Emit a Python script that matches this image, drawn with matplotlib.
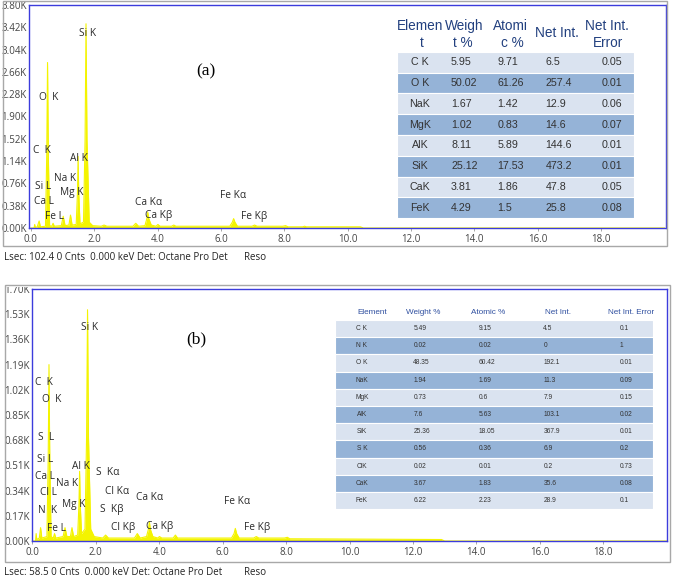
import matplotlib
matplotlib.use('Agg')
import matplotlib.pyplot as plt
from matplotlib.patches import Rectangle

# ---- spectrum (a): energy (keV) vs counts (K) ----
energy_a = [0.00, 0.10, 0.12, 0.14, 0.20, 0.26, 0.30,
            0.46, 0.50, 0.525, 0.55, 0.59,
            0.66, 0.70, 0.74,
            0.96, 1.02, 1.08,
            1.20, 1.25, 1.30,
            1.43, 1.47, 1.49, 1.51, 1.55,
            1.66, 1.71, 1.74, 1.77, 1.84,
            1.95,
            2.22, 2.31, 2.40,
            3.22, 3.31, 3.40,
            3.60, 3.66, 3.69, 3.72, 3.80,
            3.95, 4.01, 4.08,
            4.44, 4.51, 4.58,
            6.28, 6.36, 6.40, 6.44, 6.52,
            6.98, 7.06, 7.14,
            7.95, 8.04, 8.12,
            8.58, 8.64, 8.70,
            10.4, 10.5, 20.0]
counts_a = [0.00, 0.00, 0.06, 0.01, 0.02, 0.12, 0.02,
            0.03, 1.25, 2.82, 1.25, 0.04,
            0.03, 0.08, 0.03,
            0.04, 0.20, 0.04,
            0.05, 0.22, 0.05,
            0.06, 0.60, 1.22, 0.60, 0.07,
            0.10, 1.50, 3.48, 1.50, 0.10,
            0.04,
            0.03, 0.05, 0.03,
            0.03, 0.08, 0.03,
            0.04, 0.16, 0.27, 0.16, 0.05,
            0.03, 0.06, 0.03,
            0.03, 0.05, 0.03,
            0.03, 0.10, 0.16, 0.10, 0.03,
            0.03, 0.05, 0.03,
            0.03, 0.04, 0.02,
            0.02, 0.03, 0.02,
            0.02, 0.00, 0.00]

# ---- spectrum (b) ----
energy_b = [0.00, 0.10, 0.12, 0.14, 0.22, 0.26, 0.30,
            0.46, 0.50, 0.525, 0.55, 0.59,
            0.66, 0.70, 0.74,
            0.97, 1.03, 1.09,
            1.20, 1.25, 1.30,
            1.43, 1.47, 1.49, 1.51, 1.55,
            1.66, 1.71, 1.74, 1.77, 1.84,
            1.95,
            2.22, 2.31, 2.40,
            3.22, 3.31, 3.40,
            3.60, 3.66, 3.69, 3.72, 3.80,
            3.95, 4.01, 4.08,
            4.44, 4.51, 4.58,
            6.28, 6.36, 6.40, 6.44, 6.52,
            6.98, 7.06, 7.14,
            7.95, 8.04, 8.12,
            12.9, 13.0, 20.0]
counts_b = [0.00, 0.00, 0.05, 0.01, 0.02, 0.09, 0.02,
            0.03, 0.55, 1.19, 0.55, 0.03,
            0.02, 0.05, 0.02,
            0.03, 0.09, 0.03,
            0.03, 0.09, 0.03,
            0.04, 0.25, 0.47, 0.25, 0.05,
            0.08, 0.70, 1.56, 0.70, 0.08,
            0.03,
            0.02, 0.04, 0.02,
            0.02, 0.05, 0.02,
            0.03, 0.08, 0.13, 0.08, 0.03,
            0.02, 0.03, 0.02,
            0.02, 0.04, 0.02,
            0.02, 0.05, 0.085, 0.05, 0.02,
            0.02, 0.03, 0.02,
            0.02, 0.025, 0.015,
            0.01, 0.00, 0.00]

xticks = [0.0, 2.0, 4.0, 6.0, 8.0, 10.0, 12.0, 14.0, 16.0, 18.0]
yticks_a = [0.00, 0.38, 0.76, 1.14, 1.52, 1.90, 2.28, 2.66, 3.04, 3.42, 3.80]
yticks_b = [0.00, 0.17, 0.34, 0.51, 0.68, 0.85, 1.02, 1.19, 1.36, 1.53, 1.70]

# ---- quantification tables ----
elem_a = ["C K", "O K", "NaK", "MgK", "AlK", "SiK", "CaK", "FeK"]
wt_a = ["5.95", "50.02", "1.67", "1.02", "8.11", "25.12", "3.81", "4.29"]
at_a = ["9.71", "61.26", "1.42", "0.83", "5.89", "17.53", "1.86", "1.5"]
net_a = ["6.5", "257.4", "12.9", "14.6", "144.6", "473.2", "47.8", "25.8"]
err_a = ["0.05", "0.01", "0.06", "0.07", "0.01", "0.01", "0.05", "0.08"]

elem_b = ["C K", "N K", "O K", "NaK", "MgK", "AlK", "SiK", "S K", "ClK", "CaK", "FeK"]
wt_b = ["5.49", "0.02", "48.35", "1.94", "0.73", "7.6", "25.36", "0.56", "0.02", "3.67", "6.22"]
at_b = ["9.15", "0.02", "60.42", "1.69", "0.6", "5.63", "18.05", "0.36", "0.01", "1.83", "2.23"]
net_b = ["4.5", "0", "192.1", "11.3", "7.9", "103.1", "367.9", "6.9", "0.2", "35.6", "28.9"]
err_b = ["0.1", "1", "0.01", "0.09", "0.15", "0.02", "0.01", "0.2", "0.73", "0.08", "0.1"]

W, H = 676, 581
YEL = '#f4f400'
BLUE = '#3c3cdc'
LIGHT, DARK = '#dae3f0', '#95b3d7'
TICKFONT = 'Open Sans'

fig = plt.figure(figsize=(W / 100, H / 100), dpi=100)


def fbox(x0, y0, x1, y1):
    return [x0 / W, 1 - y1 / H, (x1 - x0) / W, (y1 - y0) / H]


def spectrum(rect, energy, counts, yticks, xlim):
    ax = fig.add_axes(fbox(*rect))
    ax.fill_between(energy, counts, color=YEL, lw=0)
    ax.plot(energy, counts, color=YEL, lw=0.8)
    ax.set_xlim(*xlim)
    ax.set_ylim(yticks[0], yticks[-1])
    ax.set_xticks(xticks)
    ax.set_xticklabels([f"{v:.1f}" for v in xticks])
    ax.set_yticks(yticks)
    ax.set_yticklabels([f"{v:.2f}K" for v in yticks])
    ax.tick_params(axis='x', length=2.5, width=0.6, color='#999999', pad=2,
                   labelsize=7, labelcolor='#444444')
    ax.tick_params(axis='y', length=0, pad=1.5, labelsize=7, labelcolor='#444444')
    for lab in ax.get_xticklabels() + ax.get_yticklabels():
        lab.set_fontfamily(TICKFONT)
    for s in ax.spines.values():
        s.set_color(BLUE)
        s.set_linewidth(1.0)
    return ax


def peak_labels(ax, items):
    for txt, x, y in items:
        ax.text(x, y, txt, ha='center', va='center', fontsize=7.3,
                family=TICKFONT, color='#2a2a2a')


def table(x0, x1, top, row_h, cols, col_x, col_ha, headers, fs_head, fs_cell, head_color):
    n = len(cols[0])
    ax = fig.add_axes(fbox(x0, top, x1, top + row_h * n))
    ax.barh(range(n), [1] * n, left=0, height=1.0,
            color=[LIGHT if i % 2 == 0 else DARK for i in range(n)],
            edgecolor='white', linewidth=0.8)
    ax.set_xlim(0, 1)
    ax.set_ylim(n - 0.5, -0.5)
    ax.axis('off')
    fx = lambda px: (px - x0) / (x1 - x0)
    fy = lambda py: (py - top) / row_h - 0.5
    for j, col in enumerate(cols):
        for i, val in enumerate(col):
            ax.text(fx(col_x[j]), i, val, ha=col_ha[j], va='center', fontsize=fs_cell,
                    family='Liberation Sans', color='#333333')
    for txt, px, py in headers:
        ax.text(fx(px), fy(py), txt, ha='center', va='center', fontsize=fs_head,
                family='Liberation Sans', color=head_color, clip_on=False)


# ---------------- panel (a) ----------------
ax_a = spectrum((29, 5, 665.7, 228), energy_a, counts_a, yticks_a, (-0.06, 20.04))
peak_labels(ax_a, [("Si K", 1.80, 3.32), ("O  K", 0.57, 2.23), ("C  K", 0.34, 1.32),
                   ("Al K", 1.53, 1.19), ("Na K", 1.09, 0.85), ("Si L", 0.39, 0.70),
                   ("Mg K", 1.30, 0.61), ("Ca L", 0.40, 0.45), ("Fe L", 0.75, 0.20),
                   ("Ca K\u03b1", 3.71, 0.44), ("Ca K\u03b2", 4.02, 0.21),
                   ("Fe K\u03b1", 6.39, 0.56), ("Fe K\u03b2", 7.06, 0.20)])
ax_a.text(5.51, 2.67, "(a)", ha='center', va='center', fontsize=12.5,
          family='Liberation Serif', color='black')

table(397.3, 634, 51.7, 20.8, [elem_a, wt_a, at_a, net_a, err_a],
      [420, 451, 497.3, 545.7, 601.7], ['center', 'left', 'left', 'left', 'left'],
      [("Elemen", 420, 26), ("t", 421.7, 43), ("Weigh", 463.7, 26), ("t %", 463.3, 43),
       ("Atomi", 510.5, 26), ("c %", 512.5, 43), ("Net Int.", 556.7, 32.7),
       ("Net Int.", 607.2, 26), ("Error", 608.3, 43)],
      9.8, 7.7, '#22407f')

# ---------------- panel (b) ----------------
ax_b = spectrum((31.7, 289, 667, 541), energy_b, counts_b, yticks_b, (-0.02, 20.01))
peak_labels(ax_b, [("Si K", 1.80, 1.44), ("C  K", 0.36, 1.07), ("O  K", 0.60, 0.955),
                   ("S  L", 0.44, 0.695), ("Si L", 0.39, 0.55), ("Al K", 1.52, 0.50),
                   ("S  K\u03b1", 2.37, 0.465), ("Ca L", 0.41, 0.435), ("Na K", 1.09, 0.386),
                   ("Cl L", 0.52, 0.33), ("Cl K\u03b1", 2.67, 0.334), ("Ca K\u03b1", 3.69, 0.296),
                   ("Fe K\u03b1", 6.45, 0.266), ("Mg K", 1.30, 0.248), ("N  K", 0.49, 0.205),
                   ("S  K\u03b2", 2.51, 0.21), ("Fe L", 0.75, 0.086), ("Cl K\u03b2", 2.85, 0.093),
                   ("Ca K\u03b2", 4.01, 0.097), ("Fe K\u03b2", 7.10, 0.093)])
ax_b.text(5.17, 1.36, "(b)", ha='center', va='center', fontsize=12.5,
          family='Liberation Serif', color='black')

table(335, 653.3, 320, 17.2, [elem_b, wt_b, at_b, net_b, err_b],
      [362, 413.3, 478.3, 543.3, 619.3], ['center', 'left', 'left', 'left', 'left'],
      [("Element", 372.3, 313), ("Weight %", 423.3, 313), ("Atomic %", 488.3, 313),
       ("Net Int.", 558.3, 313), ("Net Int. Error", 630.7, 313)],
      5.9, 4.8, '#3050a0')

# ---------------- frames, masks and status lines ----------------
fig.add_artist(Rectangle((0, 1 - 286.5 / H), 1, (286.5 - 246) / H, transform=fig.transFigure,
                         facecolor='white', edgecolor='none', zorder=3))
fig.add_artist(Rectangle((0, 1 - 2 / H), 1, 2 / H, transform=fig.transFigure,
                         facecolor='white', edgecolor='none', zorder=3))
for x0, y0, x1, y1 in [(2.7, 1, 667.3, 245.7), (5.3, 285, 670, 561.7)]:
    fig.add_artist(Rectangle((x0 / W, 1 - y1 / H), (x1 - x0) / W, (y1 - y0) / H,
                             transform=fig.transFigure, facecolor='none',
                             edgecolor='#a8a8a8', lw=1.0, zorder=4))

for y, txt in [(257.7, "Lsec: 102.4 0 Cnts  0.000 keV Det: Octane Pro Det"),
               (572.7, "Lsec: 58.5 0 Cnts  0.000 keV Det: Octane Pro Det")]:
    fig.text(4 / W, 1 - y / H, txt, ha='left', va='center', fontsize=7,
             family=TICKFONT, color='#222222', zorder=5)
    fig.text(244 / W, 1 - y / H, "Reso", ha='left', va='center', fontsize=7,
             family=TICKFONT, color='#222222', zorder=5)

fig.savefig('out.png', dpi=100)
